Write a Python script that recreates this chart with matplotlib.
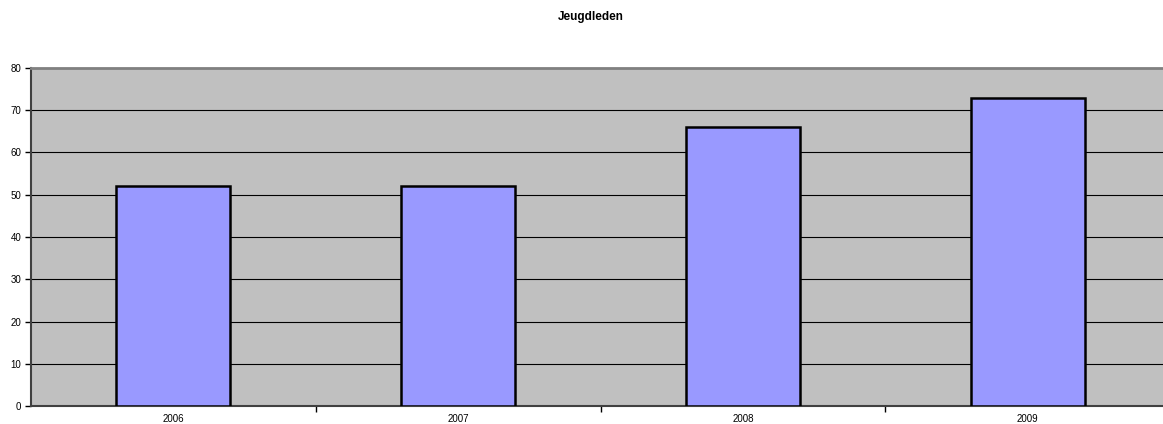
import matplotlib
matplotlib.use("Agg")
import matplotlib.pyplot as plt
import numpy as np

categories = ["2006", "2007", "2008", "2009"]
values = [52, 52, 66, 73]
yticks = [0, 10, 20, 30, 40, 50, 60, 70, 80]

plt.rcParams['font.family'] = ['Liberation Sans', 'DejaVu Sans']

W, H = 1163, 424
fig = plt.figure(figsize=(W/100, H/100), dpi=100)
ax = fig.add_axes([31/W, (H-406)/H, (1170-31)/W, (406-68)/H])
ax.set_facecolor("#c0c0c0")

x = np.arange(len(categories))
ax.bar(x, values, width=0.40, color="#9999ff", edgecolor="black", linewidth=1.8, zorder=3)

ax.set_xlim(-0.5, len(categories)-0.5)
ax.set_ylim(0, 80)
ax.set_yticks(yticks)
ax.set_yticklabels([str(v) for v in yticks], fontsize=7)
for v in yticks[1:-1]:
    ax.axhline(v, color="black", linewidth=0.8, zorder=1)

ax.set_xticks(x)
ax.set_xticklabels(categories, fontsize=7)
ax.tick_params(axis="x", length=0, pad=5.5)
ax.set_xticks(np.arange(0.5, len(categories)-0.5, 1), minor=True)
ax.tick_params(axis="x", which="minor", length=4, width=1, color="black", direction="out")
ax.tick_params(axis="y", length=4, width=1, color="black", direction="out", pad=3)

for s in ["left", "bottom"]:
    ax.spines[s].set_color("#404040")
    ax.spines[s].set_linewidth(1.5)
ax.spines["top"].set_color("#808080")
ax.spines["top"].set_linewidth(2)
ax.spines["right"].set_visible(False)

fig.text(591/W, 1-17/H, "Jeugdleden", ha="center", va="center", fontsize=8.5, fontweight="bold")

fig.savefig("out.png", dpi=100)
